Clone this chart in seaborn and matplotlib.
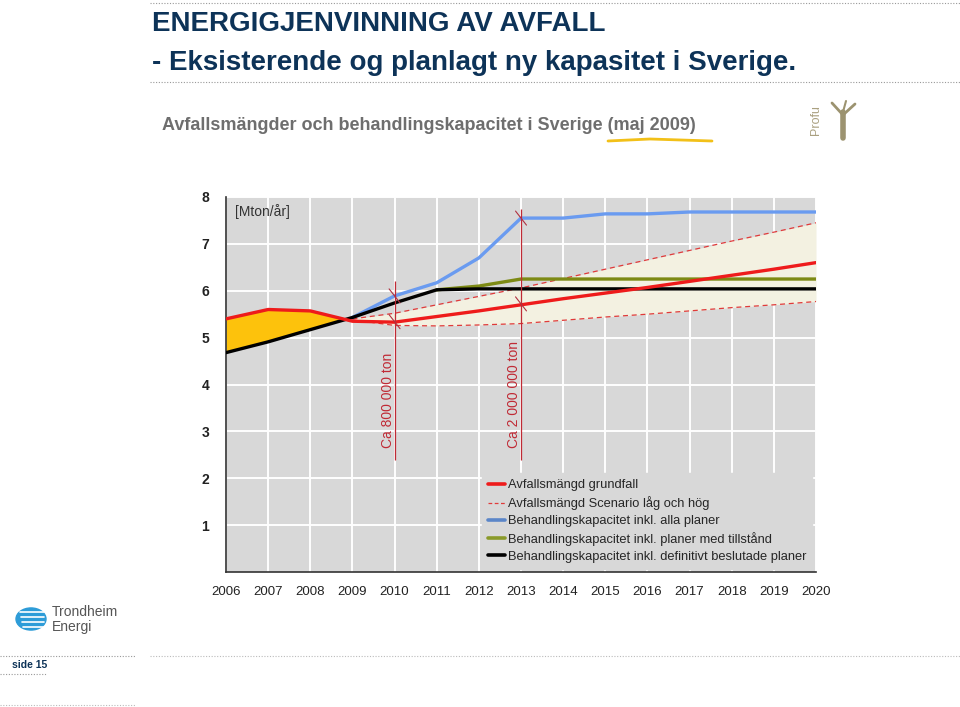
import numpy as np
import pandas as pd
import matplotlib
matplotlib.use("Agg")
import matplotlib.pyplot as plt
import seaborn as sns
from matplotlib.lines import Line2D
from matplotlib.patches import Circle

# ---------------- data ----------------
years = list(range(2006, 2021))
grundfall = [5.40, 5.60, 5.57, 5.35, 5.33, 5.45, 5.57, 5.70, 5.83, 5.95, 6.07, 6.20, 6.33, 6.46, 6.60]
scen_years = list(range(2009, 2021))
scen_hog = [5.40, 5.52, 5.70, 5.88, 6.06, 6.26, 6.46, 6.66, 6.86, 7.06, 7.25, 7.45]
scen_lag = [5.38, 5.26, 5.25, 5.27, 5.30, 5.37, 5.44, 5.50, 5.57, 5.64, 5.70, 5.77]
definitiv = [4.68, 4.91, 5.17, 5.43, 5.74, 6.02, 6.04, 6.04, 6.04, 6.04, 6.04, 6.04, 6.04, 6.04, 6.04]
alla_years = list(range(2009, 2021))
alla = [5.43, 5.89, 6.17, 6.70, 7.55, 7.55, 7.64, 7.64, 7.68, 7.68, 7.68, 7.68]
tillst_years = list(range(2011, 2021))
tillst = [6.02, 6.10, 6.25, 6.25, 6.25, 6.25, 6.25, 6.25, 6.25, 6.25]
y_ticks = [1, 2, 3, 4, 5, 6, 7, 8]
labels = ["Avfallsmängd grundfall",
          "Avfallsmängd Scenario låg och hög",
          "Behandlingskapacitet inkl. alla planer",
          "Behandlingskapacitet inkl. planer med tillstånd",
          "Behandlingskapacitet inkl. definitivt beslutade planer"]
marker_years = [2010, 2013]
marker_texts = ["Ca 800 000 ton", "Ca 2 000 000 ton"]

# ---------------- style ----------------
sns.set_theme(style="darkgrid")
plt.rcParams['font.family'] = ['Liberation Sans', 'DejaVu Sans']

RED = "#ee1b1b"
BLUE = "#6a9bf0"
OLIVE = "#7d8a14"
DRED = "#c02a35"
NAVY = "#0d3358"

fig = plt.figure(figsize=(9.6, 7.07), dpi=100)
ax = fig.add_axes([226/960, 1-572/707, 590/960, 375/707])
ax.set_facecolor("#d8d8d8")

df_main = pd.DataFrame({"year": years, "grundfall": grundfall, "definitiv": definitiv})
df_scen = pd.DataFrame({"year": scen_years, "hog": scen_hog, "lag": scen_lag})
df_alla = pd.DataFrame({"year": alla_years, "alla": alla})
df_till = pd.DataFrame({"year": tillst_years, "tillst": tillst})

# fills
yr = np.array(years, dtype=float)
g = np.array(grundfall)
d = np.array(definitiv)
mask = yr <= 2009
ax.fill_between(yr[mask], g[mask], d[mask], where=(g[mask] >= d[mask]),
                interpolate=True, color="#fdc20c", zorder=1.5, linewidth=0)
ax.fill_between(scen_years, scen_lag, scen_hog, color="#f3f1e1", zorder=1.5, linewidth=0)

# lines
sns.lineplot(data=df_scen, x="year", y="hog", ax=ax, color="#e03a3a", lw=0.9,
             linestyle=(0, (4, 3)), zorder=3)
sns.lineplot(data=df_scen, x="year", y="lag", ax=ax, color="#e03a3a", lw=0.9,
             linestyle=(0, (4, 3)), zorder=3)
sns.lineplot(data=df_alla, x="year", y="alla", ax=ax, color=BLUE, lw=2.4, zorder=3)
sns.lineplot(data=df_till, x="year", y="tillst", ax=ax, color=OLIVE, lw=2.4, zorder=3)
sns.lineplot(data=df_main, x="year", y="definitiv", ax=ax, color="black", lw=2.4, zorder=4)
sns.lineplot(data=df_main, x="year", y="grundfall", ax=ax, color=RED, lw=2.4, zorder=4)

# marker vertical lines
ax.vlines(marker_years[0], 2.38, 6.2, color=DRED, lw=0.9, zorder=5)
ax.vlines(marker_years[1], 2.38, 7.75, color=DRED, lw=0.9, zorder=5)
cross_pts = [(2010, 5.89), (2010, 5.34), (2013, 7.55), (2013, 5.72)]
for cx, cy in cross_pts:
    ax.plot([cx - 0.13, cx + 0.13], [cy + 0.15, cy - 0.15], color="#b03040", lw=0.8, zorder=6)
ax.text(2009.84, 3.66, marker_texts[0], rotation=90, ha="center", va="center",
        color=DRED, fontsize=10)
ax.text(2012.84, 3.79, marker_texts[1], rotation=90, ha="center", va="center",
        color=DRED, fontsize=10)

ax.text(2006.22, 7.68, "[Mton/år]", fontsize=10, color="#333333", va="center")

ax.set_xlim(2006, 2020)
ax.set_ylim(0, 8)
ax.set_xticks(years)
ax.set_xticklabels([str(y) for y in years], fontsize=9.5, color="#222222")
ax.set_yticks(y_ticks)
ax.set_yticklabels([str(v) for v in y_ticks], fontsize=10, fontweight="bold", color="#222222")
ax.tick_params(axis="x", pad=4)
ax.tick_params(axis="y", pad=6)
ax.set_xlabel("")
ax.set_ylabel("")
ax.grid(color="white", lw=1.4)
for s in ["top", "right"]:
    ax.spines[s].set_visible(False)
ax.spines["left"].set_visible(True)
ax.spines["left"].set_color("#333333")
ax.spines["left"].set_linewidth(1.2)
ax.spines["bottom"].set_visible(True)
ax.spines["bottom"].set_color("#333333")
ax.spines["bottom"].set_linewidth(1.2)

handles = [Line2D([], [], color=RED, lw=2.6),
           Line2D([], [], color="#e03a3a", lw=0.9, linestyle=(0, (3, 2))),
           Line2D([], [], color="#5b86c8", lw=2.6),
           Line2D([], [], color="#8a9a2a", lw=2.6),
           Line2D([], [], color="black", lw=2.6)]
leg = ax.legend(handles, labels, loc="lower right", bbox_to_anchor=(1.005, -0.01),
                fontsize=9.3, frameon=True, facecolor="#d8d8d8", edgecolor="#d8d8d8",
                fancybox=False, handlelength=1.3, handletextpad=0.2, labelspacing=0.38,
                borderpad=0.5, framealpha=1)
leg.set_zorder(10)

# ---------------- page decorations ----------------
fig.text(152/960, 1-24/707, "ENERGIGJENVINNING AV AVFALL", fontsize=20, fontweight="bold",
         color=NAVY, va="center", ha="left")
fig.text(152/960, 1-63/707, "- Eksisterende og planlagt ny kapasitet i Sverige.", fontsize=20,
         fontweight="bold", color=NAVY, va="center", ha="left")
for yy in [3, 82]:
    fig.add_artist(Line2D([150/960, 1], [1-yy/707, 1-yy/707], color="#999999", lw=0.8,
                          linestyle=(0, (1, 1.5))))
fig.add_artist(Line2D([0, 135/960], [1-656/707, 1-656/707], color="#999999", lw=0.8,
                      linestyle=(0, (1, 1.5))))
fig.add_artist(Line2D([150/960, 1], [1-656/707, 1-656/707], color="#bbbbbb", lw=0.8,
                      linestyle=(0, (1, 1.5))))
fig.add_artist(Line2D([0, 46/960], [1-674/707, 1-674/707], color="#999999", lw=0.8,
                      linestyle=(0, (1, 1.5))))
fig.add_artist(Line2D([0, 135/960], [1-705/707, 1-705/707], color="#bbbbbb", lw=0.8,
                      linestyle=(0, (1, 1.5))))
fig.text(12/960, 1-665/707, "side 15", fontsize=7.5, fontweight="bold", color=NAVY, va="center")

# chart subtitle
fig.text(162/960, 1-126/707, "Avfallsmängder och behandlingskapacitet i Sverige (maj 2009)",
         fontsize=13, fontweight="bold", color="#6e6e6e", va="center")
fig.add_artist(Line2D([608/960, 650/960, 712/960], [1-141/707, 1-139/707, 1-141/707],
                      color="#f2c018", lw=2))

# Profu logo
fig.text(816/960, 1-120/707, "Profu", rotation=90, fontsize=9, color="#aaa080",
         va="center", ha="center")
tree = "#9c9370"
fig.add_artist(Line2D([843/960, 843/960], [1-138/707, 1-112/707], color=tree, lw=4))
fig.add_artist(Line2D([843/960, 832/960], [1-115/707, 1-103/707], color=tree, lw=2))
fig.add_artist(Line2D([843/960, 855/960], [1-115/707, 1-104/707], color=tree, lw=2))
fig.add_artist(Line2D([843/960, 846/960], [1-112/707, 1-101/707], color=tree, lw=1.5))

# Trondheim Energi logo
circ = Circle((31/960, 1-619/707), 15/960, transform=fig.transFigure, color="#2d9cd8")
fig.add_artist(circ)
for k, yy in enumerate([612, 617, 622, 627]):
    fig.add_artist(Line2D([(20 + k) / 960, 44/960], [1-yy/707, 1-yy/707], color="white", lw=1.2))
fig.text(52/960, 1-612/707, "Trondheim", fontsize=10, color="#555555", va="center")
fig.text(52/960, 1-627/707, "Energi", fontsize=10, color="#555555", va="center")

fig.savefig("out.png", dpi=100)
